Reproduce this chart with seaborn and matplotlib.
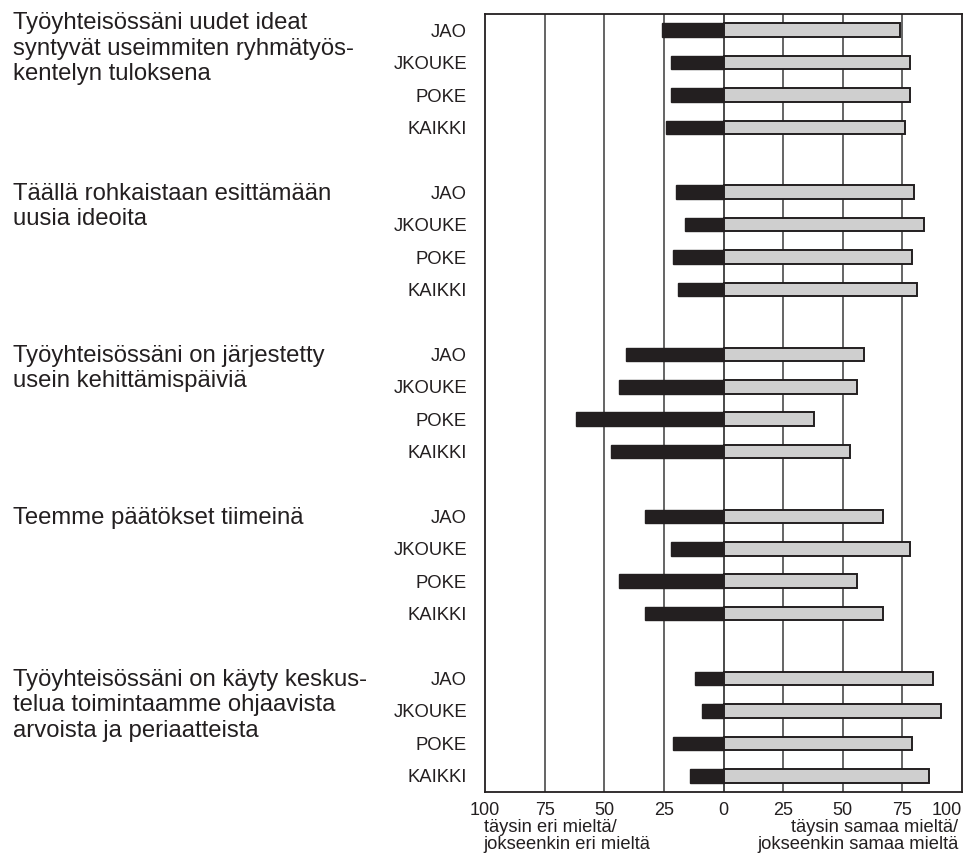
import matplotlib
matplotlib.use("Agg")
import matplotlib.pyplot as plt
import seaborn as sns
import pandas as pd

# Survey statements (left column) and respondent groups (row labels)
statements = [
    "Työyhteisössäni uudet ideat\nsyntyvät useimmiten ryhmätyös-\nkentelyn tuloksena",
    "Täällä rohkaistaan esittämään\nuusia ideoita",
    "Työyhteisössäni on järjestetty\nusein kehittämispäiviä",
    "Teemme päätökset tiimeinä",
    "Työyhteisössäni on käyty keskus-\ntelua toimintaamme ohjaavista\narvoista ja periaatteista",
]
groups = ["JAO", "JKOUKE", "POKE", "KAIKKI"]

# Share (%) of respondents who disagree / agree, per statement and group
disagree = [
    [26, 22, 22, 24],
    [20, 16, 21, 19],
    [41, 44, 62, 47],
    [33, 22, 44, 33],
    [12, 9, 21, 14],
]
agree = [
    [74, 78, 78, 76],
    [80, 84, 79, 81],
    [59, 56, 38, 53],
    [67, 78, 56, 67],
    [88, 91, 79, 86],
]

tick_values = [-100, -75, -50, -25, 0, 25, 50, 75, 100]
left_caption = "täysin eri mieltä/\njokseenkin eri mieltä"
right_caption = "täysin samaa mieltä/\njokseenkin samaa mieltä"

# Long table; each statement block is followed by an empty spacer slot
rows = []
order = []
for s, stmt in enumerate(statements):
    for g, grp in enumerate(groups):
        key = f"{s}-{grp}"
        order.append(key)
        rows.append({"key": key, "group": grp,
                     "neg": -disagree[s][g], "pos": agree[s][g]})
    if s < len(statements) - 1:
        order.append(f"gap{s}")
df = pd.DataFrame(rows)

sns.set_theme(style="white")
plt.rcParams["font.family"] = ["Liberation Sans", "DejaVu Sans"]

fig = plt.figure(figsize=(9.67, 8.63), dpi=100)
ax = fig.add_axes([0.5016, 0.0823, 0.4932, 0.9015])

dark = "#231f20"
light = "#cfcfcf"

for v in tick_values[1:-1]:
    ax.axvline(v, color="#3a3a3a", lw=1.3 if v == 0 else 1.1, zorder=0)

sns.barplot(data=df, x="neg", y="key", order=order, orient="y",
            color=dark, saturation=1, width=0.42, errorbar=None,
            edgecolor=dark, linewidth=1.0, ax=ax, zorder=2)
sns.barplot(data=df, x="pos", y="key", order=order, orient="y",
            color=light, saturation=1, width=0.42, errorbar=None,
            edgecolor=dark, linewidth=1.4, ax=ax, zorder=2)

ax.set_xlim(-100, 100)
ax.set_ylim(len(order) - 0.5, -0.5)
ax.set_xticks(tick_values)
ax.set_xticklabels([str(abs(v)) for v in tick_values], fontsize=13, color=dark)
# keep the outermost right label inside the figure
ax.get_xticklabels()[-1].set_horizontalalignment("right")
ax.set_yticks(range(len(order)))
ax.set_yticklabels([k.split("-", 1)[1] if "-" in k else "" for k in order],
                   fontsize=13.3, color=dark)
ax.tick_params(axis="both", length=0)
ax.tick_params(axis="y", pad=13)
ax.tick_params(axis="x", pad=7)
ax.set_xlabel("")
ax.set_ylabel("")
for sp in ax.spines.values():
    sp.set_visible(True)
    sp.set_color(dark)
    sp.set_linewidth(1.3)

# Statement texts next to each block
for s, stmt in enumerate(statements):
    y0 = order.index(f"{s}-JAO")
    nudge = -0.25 if s == 0 else 0.0
    ax.text(-0.9895, y0 - 0.3 + nudge, stmt, transform=ax.get_yaxis_transform(),
            ha="left", va="top", fontsize=17.2, linespacing=1.2, color=dark)

fig.text(0.5000, 0.0505, left_caption, ha="left", va="top", fontsize=13.2,
         linespacing=1.0, color=dark)
fig.text(0.991, 0.0505, right_caption, ha="right", va="top", fontsize=13.2,
         linespacing=1.0, multialignment="right", color=dark)

fig.savefig("out.png", dpi=100)
